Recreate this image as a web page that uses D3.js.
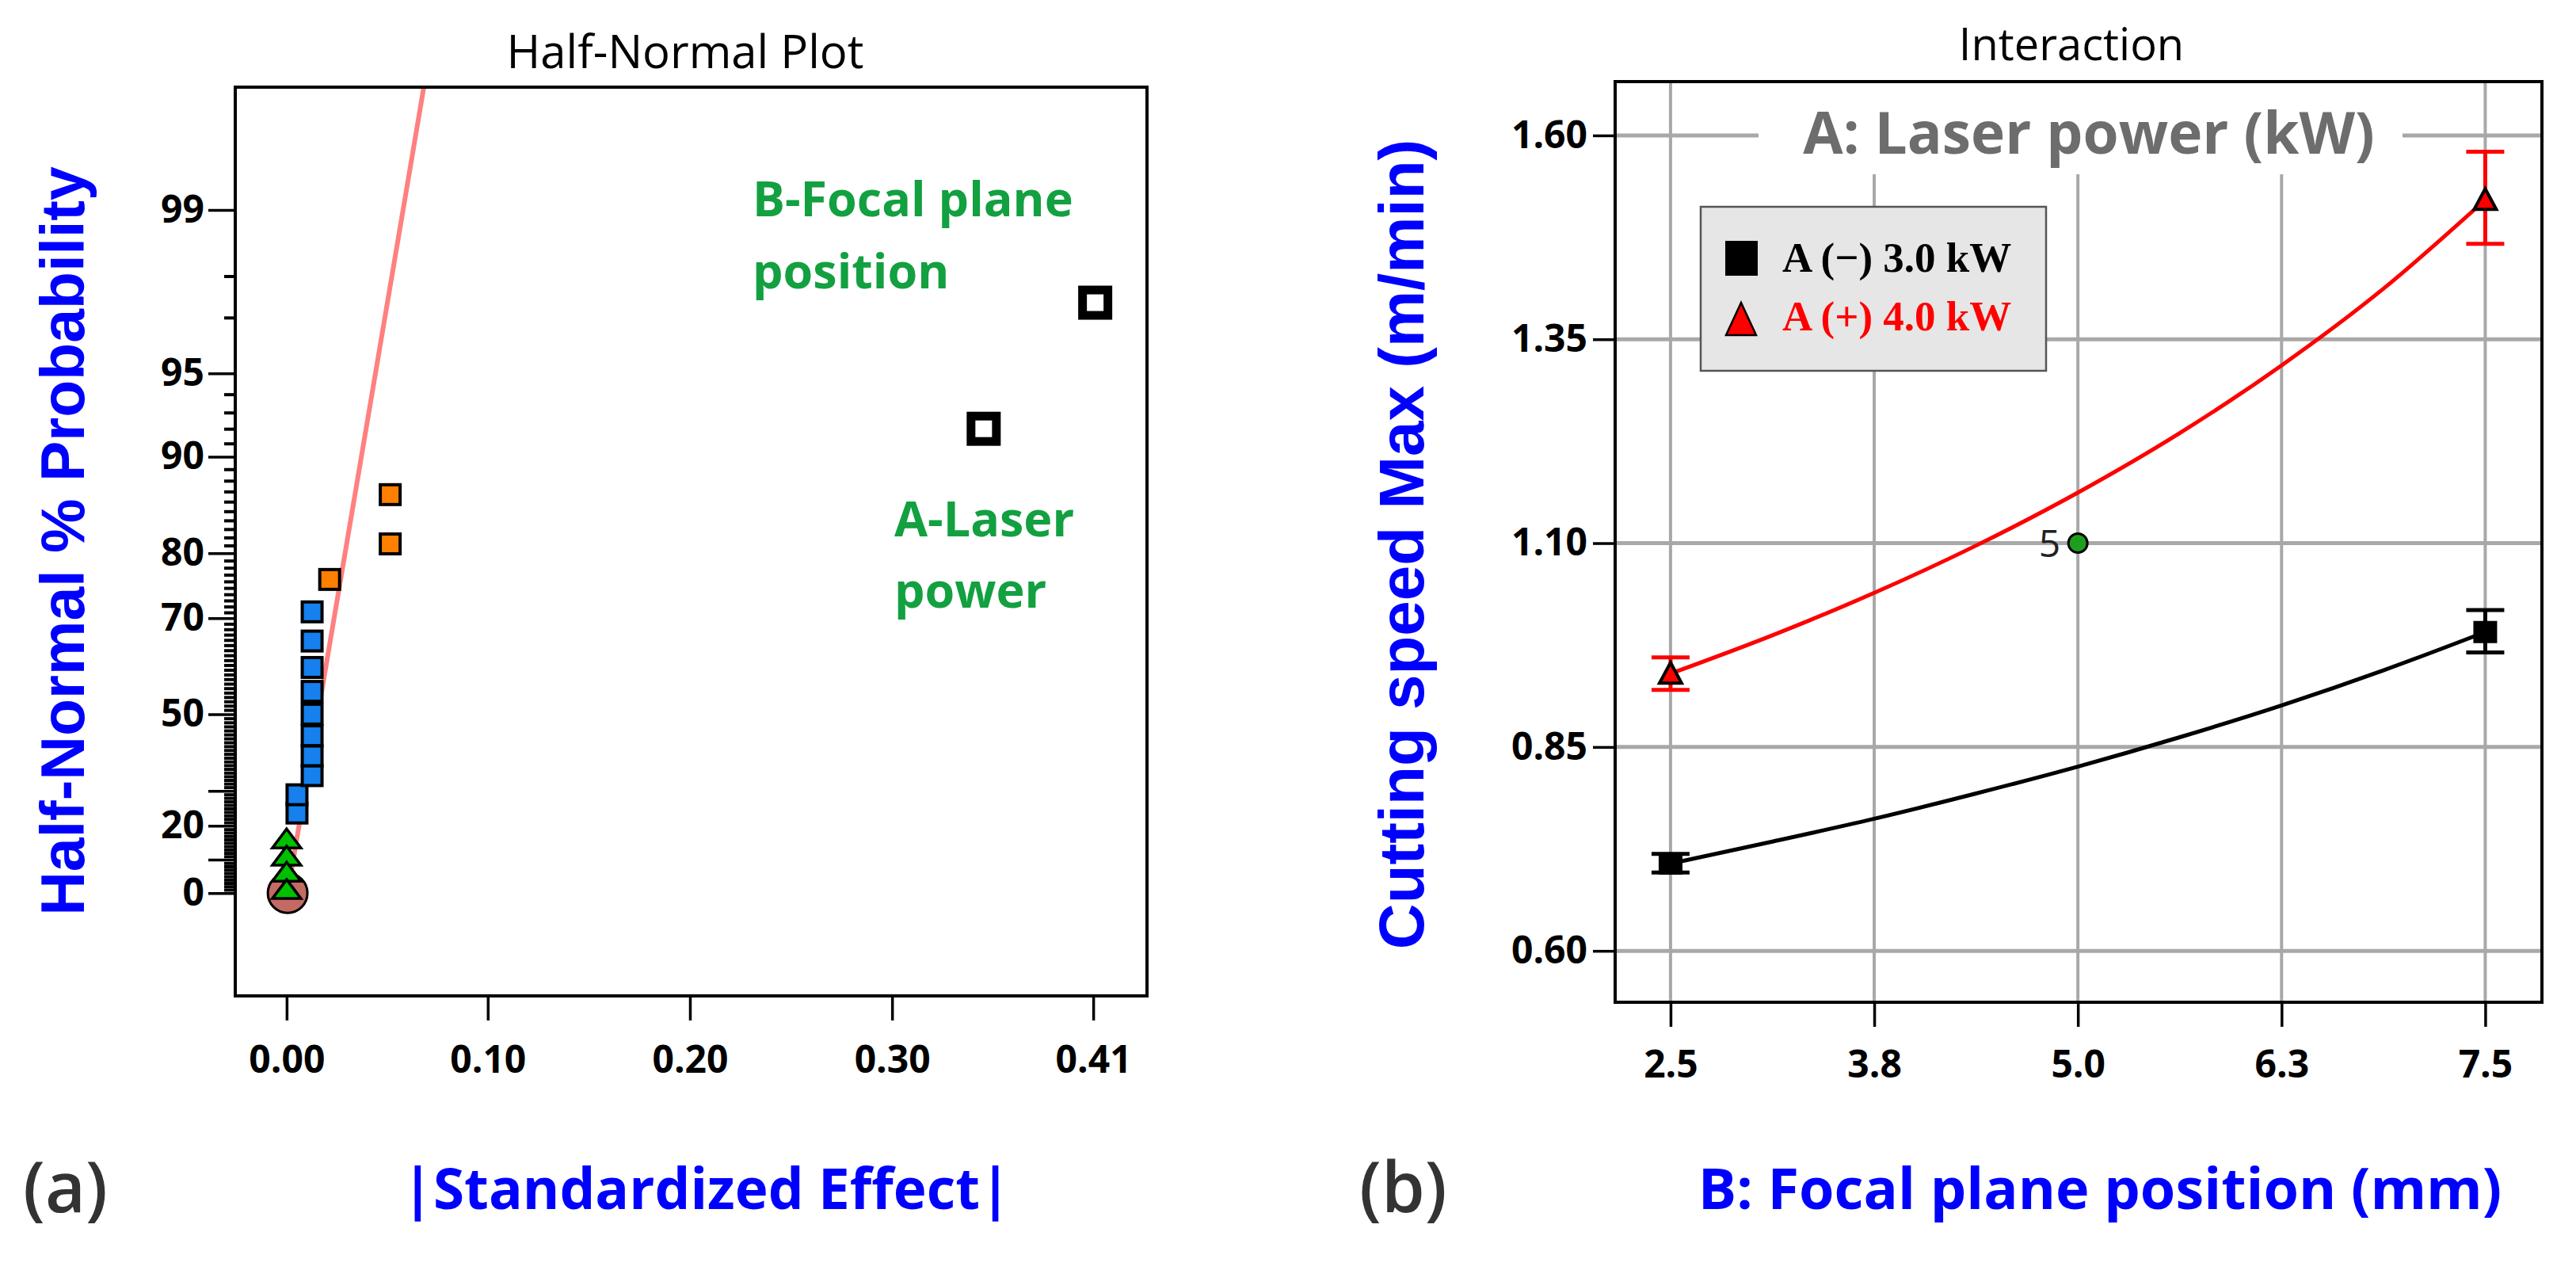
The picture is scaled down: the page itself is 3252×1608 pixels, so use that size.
<!DOCTYPE html>
<html>
<head>
<meta charset="utf-8">
<script src="https://cdn.jsdelivr.net/npm/d3@7"></script>
<style>
  body { margin: 0; background: #fff; }
</style>
</head>
<body>
<svg id="chart" width="3252" height="1608" font-family="Open Sans, sans-serif"></svg>
<script>
// (a) half-normal plot data
const effectValues = [0.406, 0.350, 0.052, 0.052, 0.0216, 0.0128, 0.0128, 0.0128, 0.0128, 0.0128, 0.0128, 0.0128, 0.0128, 0.0052, 0.0052, 0, 0, 0, 0];
const effectProbs = [97.4, 92.0, 86.7, 81.2, 76.3, 71.1, 65.8, 60.5, 55.3, 50.0, 44.7, 39.5, 34.2, 28.9, 23.7, 16.3, 11.2, 6.4, 1.2];
const effectGroups = ["main", "main", "orange", "orange", "orange", "blue", "blue", "blue", "blue", "blue", "blue", "blue", "blue", "blue", "blue", "green", "green", "green", "green"];
const errorPoint = { effect: 0.0005, prob: 0 };
const fitLineEffects = [0.0005, 0.0688];
const fitLineProbs = [0, 99.76];
const probMajor = [0, 10, 20, 30, 50, 70, 80, 90, 95, 99];
const probMajorLabels = ["0", "", "20", "", "50", "70", "80", "90", "95", "99"];
const probMinor = d3.range(1, 95).filter(p => !probMajor.includes(p)).concat([97, 98]);
const effectTicks = [0, 0.101, 0.2025, 0.304, 0.405];
const effectTickLabels = ["0.00", "0.10", "0.20", "0.30", "0.41"];

// (b) interaction plot data
const focalLevels = [2.5, 7.5];
const lowPowerMean = [0.707, 0.991];
const lowPowerLo = [0.696, 0.966];
const lowPowerHi = [0.719, 1.018];
const highPowerMean = [0.940, 1.521];
const highPowerLo = [0.920, 1.467];
const highPowerHi = [0.960, 1.580];
const curveFocal = [2.5, 3.125, 3.75, 4.375, 5.0, 5.625, 6.25, 6.875, 7.5];
const lowPowerCurve = [0.707, 0.734, 0.762, 0.793, 0.826, 0.862, 0.901, 0.944, 0.991];
const highPowerCurve = [0.940, 0.987, 1.039, 1.097, 1.162, 1.235, 1.318, 1.412, 1.521];
const centerPoint = { focal: 5.0, speed: 1.10, label: "5" };
const focalTicks = [2.5, 3.75, 5.0, 6.25, 7.5];
const focalTickLabels = ["2.5", "3.8", "5.0", "6.3", "7.5"];
const speedTicks = [0.60, 0.85, 1.10, 1.35, 1.60];
const legendLabels = ["A (\u2212) 3.0 kW", "A (+) 4.0 kW"];

// inverse normal cdf (Acklam)
function probit(p) {
    const a = [-3.969683028665376e+01, 2.209460984245205e+02, -2.759285104469687e+02, 1.383577518672690e+02, -3.066479806614716e+01, 2.506628277459239e+00];
    const b = [-5.447609879822406e+01, 1.615858368580409e+02, -1.556989798598866e+02, 6.680131188771972e+01, -1.328068155288572e+01];
    const c = [-7.784894002430293e-03, -3.223964580411365e-01, -2.400758277161838e+00, -2.549732539343734e+00, 4.374664141464968e+00, 2.938163982698783e+00];
    const d = [7.784695709041462e-03, 3.224671290700398e-01, 2.445134137142996e+00, 3.754408661907416e+00];
    const pl = 0.02425;
    let q, r;
    if (p < pl) {
        q = Math.sqrt(-2 * Math.log(p));
        return (((((c[0] * q + c[1]) * q + c[2]) * q + c[3]) * q + c[4]) * q + c[5]) / ((((d[0] * q + d[1]) * q + d[2]) * q + d[3]) * q + 1);
    }
    if (p <= 1 - pl) {
        q = p - 0.5; r = q * q;
        return (((((a[0] * r + a[1]) * r + a[2]) * r + a[3]) * r + a[4]) * r + a[5]) * q / (((((b[0] * r + b[1]) * r + b[2]) * r + b[3]) * r + b[4]) * r + 1);
    }
    q = Math.sqrt(-2 * Math.log(1 - p));
    return -(((((c[0] * q + c[1]) * q + c[2]) * q + c[3]) * q + c[4]) * q + c[5]) / ((((d[0] * q + d[1]) * q + d[2]) * q + d[3]) * q + 1);
}
const halfNormalZ = pct => probit(0.5 + pct / 200);

const svg = d3.select("#chart");
svg.append("rect").attr("width", 3252).attr("height", 1608).attr("fill", "#fff");

function styleAxis(g, size) {
    g.attr("font-size", size).attr("font-weight", 700).attr("font-family", "Open Sans, sans-serif");
    g.select(".domain").remove();
    g.selectAll(".tick line").attr("stroke", "#000").attr("stroke-width", 3.5);
    g.selectAll(".tick text").attr("fill", "#000");
}

// ================= (a) =================
const A = { left: 297, right: 1448, top: 110, bottom: 1257 };
const xA = d3.scaleLinear().domain([-0.0258, 0.432]).range([A.left, A.right]);
const yA = d3.scaleLinear().domain([-0.388, 3.039]).range([A.bottom, A.top]);
const gA = svg.append("g");

gA.append("clipPath").attr("id", "clipA").append("rect")
    .attr("x", A.left).attr("y", A.top)
    .attr("width", A.right - A.left).attr("height", A.bottom - A.top);

gA.append("g")
    .attr("transform", `translate(${A.left},0)`)
    .call(d3.axisLeft(yA).tickValues(probMinor.map(halfNormalZ)).tickSize(14).tickFormat(""))
    .call(g => styleAxis(g, 48))
    .selectAll(".tick line").attr("stroke-width", 4);

gA.append("g")
    .attr("transform", `translate(${A.left},0)`)
    .call(d3.axisLeft(yA).tickValues(probMajor.map(halfNormalZ)).tickSize(34).tickPadding(5)
        .tickFormat((d, i) => probMajorLabels[i]))
    .call(g => styleAxis(g, 48));

gA.append("g")
    .attr("transform", `translate(0,${A.bottom})`)
    .call(d3.axisBottom(xA).tickValues(effectTicks).tickSize(31).tickPadding(32)
        .tickFormat((d, i) => effectTickLabels[i]))
    .call(g => styleAxis(g, 48));

// fitted line
const fitLine = d3.line().x(d => xA(d[0])).y(d => yA(halfNormalZ(d[1])));
gA.append("path")
    .datum(fitLineEffects.map((e, i) => [e, fitLineProbs[i]]))
    .attr("d", fitLine)
    .attr("clip-path", "url(#clipA)")
    .attr("fill", "none")
    .attr("stroke", "#FF8080")
    .attr("stroke-width", 6);

// error estimate circle
gA.append("circle")
    .attr("cx", xA(errorPoint.effect))
    .attr("cy", yA(halfNormalZ(errorPoint.prob)))
    .attr("r", 25)
    .attr("fill", "#C46A64")
    .attr("stroke", "#000")
    .attr("stroke-width", 3);

const effectData = effectValues.map((e, i) => ({ effect: e, prob: effectProbs[i], group: effectGroups[i] }));

gA.append("g").selectAll("path")
    .data(effectData.filter(d => d.group === "green"))
    .join("path")
    .attr("transform", d => `translate(${xA(d.effect)},${yA(halfNormalZ(d.prob))})`)
    .attr("d", "M0,-12L18,12L-18,12Z")
    .attr("fill", "#00C000")
    .attr("stroke", "#000")
    .attr("stroke-width", 3.5);

const squareStyle = {
    blue: { size: 25, fill: "#1580EE", sw: 4 },
    orange: { size: 25, fill: "#FF8000", sw: 4 },
    main: { size: 32, fill: "#fff", sw: 11 }
};
gA.append("g").selectAll("rect")
    .data(effectData.filter(d => d.group !== "green").reverse())
    .join("rect")
    .attr("x", d => xA(d.effect) - squareStyle[d.group].size / 2)
    .attr("y", d => yA(halfNormalZ(d.prob)) - squareStyle[d.group].size / 2)
    .attr("width", d => squareStyle[d.group].size)
    .attr("height", d => squareStyle[d.group].size)
    .attr("fill", d => squareStyle[d.group].fill)
    .attr("stroke", "#000")
    .attr("stroke-width", d => squareStyle[d.group].sw);

gA.append("rect")
    .attr("x", A.left).attr("y", A.top)
    .attr("width", A.right - A.left).attr("height", A.bottom - A.top)
    .attr("fill", "none").attr("stroke", "#000").attr("stroke-width", 4);

// annotations
const green = "#12A040";
[["B-Focal plane", 950, 273], ["position", 950, 364], ["A-Laser", 1129, 677], ["power", 1129, 767]]
    .forEach(t => {
        gA.append("text")
            .attr("x", t[1]).attr("y", t[2])
            .attr("font-size", 61).attr("font-weight", 700)
            .attr("fill", green)
            .text(t[0]);
    });

gA.append("text")
    .attr("x", 865).attr("y", 86)
    .attr("text-anchor", "middle")
    .attr("font-size", 58)
    .attr("fill", "#000")
    .text("Half-Normal Plot");

gA.append("text")
    .attr("transform", "translate(106,683)rotate(-90)")
    .attr("text-anchor", "middle")
    .attr("font-family", "Liberation Sans, Arial, sans-serif")
    .attr("font-size", 77).attr("font-weight", 700)
    .attr("fill", "#0000FF")
    .text("Half-Normal % Probability");

gA.append("text")
    .attr("x", 892).attr("y", 1526)
    .attr("text-anchor", "middle")
    .attr("font-size", 71).attr("font-weight", 700)
    .attr("fill", "#0000FF")
    .text("|Standardized Effect|");

gA.append("text")
    .attr("x", 29).attr("y", 1530)
    .attr("font-size", 88).attr("font-weight", 600)
    .attr("fill", "#333")
    .text("(a)");

// ================= (b) =================
const B = { left: 2039, right: 3209, top: 103, bottom: 1265 };
const xB = d3.scaleLinear().domain([2.16, 7.848]).range([B.left, B.right]);
const yB = d3.scaleLinear().domain([0.537, 1.666]).range([B.bottom, B.top]);
const gB = svg.append("g");

// grid
gB.append("g").selectAll("line")
    .data(focalTicks)
    .join("line")
    .attr("x1", d => xB(d)).attr("x2", d => xB(d))
    .attr("y1", B.top).attr("y2", B.bottom)
    .attr("stroke", "#A8A8A8").attr("stroke-width", 4);
gB.append("g").selectAll("line")
    .data(speedTicks)
    .join("line")
    .attr("x1", B.left).attr("x2", B.right)
    .attr("y1", d => yB(d)).attr("y2", d => yB(d))
    .attr("stroke", "#A8A8A8").attr("stroke-width", 5);

gB.append("g")
    .attr("transform", `translate(${B.left},0)`)
    .call(d3.axisLeft(yB).tickValues(speedTicks).tickSize(28).tickPadding(7).tickFormat(d3.format(".2f")))
    .call(g => styleAxis(g, 48));

gB.append("g")
    .attr("transform", `translate(0,${B.bottom})`)
    .call(d3.axisBottom(xB).tickValues(focalTicks).tickSize(31).tickPadding(30)
        .tickFormat((d, i) => focalTickLabels[i]))
    .call(g => styleAxis(g, 48));

// title box over grid
gB.append("rect")
    .attr("x", 2220).attr("y", B.top + 2)
    .attr("width", 3033 - 2220).attr("height", 220 - B.top - 2)
    .attr("fill", "#fff");
gB.append("text")
    .attr("x", 2637).attr("y", 194)
    .attr("text-anchor", "middle")
    .attr("font-size", 73).attr("font-weight", 700)
    .attr("fill", "#6D6D6D")
    .text("A: Laser power (kW)");

// curves
const curveLine = d3.line()
    .x(d => xB(d[0])).y(d => yB(d[1]))
    .curve(d3.curveMonotoneX);
gB.append("path")
    .datum(curveFocal.map((f, i) => [f, highPowerCurve[i]]))
    .attr("d", curveLine)
    .attr("fill", "none").attr("stroke", "#FF0000").attr("stroke-width", 5);
gB.append("path")
    .datum(curveFocal.map((f, i) => [f, lowPowerCurve[i]]))
    .attr("d", curveLine)
    .attr("fill", "none").attr("stroke", "#000").attr("stroke-width", 5);

// error bars
function errorBars(lo, hi, color) {
    const g = gB.append("g").attr("stroke", color).attr("stroke-width", 5);
    focalLevels.forEach((f, i) => {
        const x = xB(f);
        g.append("line").attr("x1", x).attr("x2", x).attr("y1", yB(lo[i])).attr("y2", yB(hi[i]));
        g.append("line").attr("x1", x - 24).attr("x2", x + 24).attr("y1", yB(lo[i])).attr("y2", yB(lo[i]));
        g.append("line").attr("x1", x - 24).attr("x2", x + 24).attr("y1", yB(hi[i])).attr("y2", yB(hi[i]));
    });
}
errorBars(lowPowerLo, lowPowerHi, "#000");
errorBars(highPowerLo, highPowerHi, "#FF0000");

gB.append("g").selectAll("rect")
    .data(focalLevels)
    .join("rect")
    .attr("x", d => xB(d) - 15)
    .attr("y", (d, i) => yB(lowPowerMean[i]) - 14)
    .attr("width", 30).attr("height", 28)
    .attr("fill", "#000");

gB.append("g").selectAll("path")
    .data(focalLevels)
    .join("path")
    .attr("transform", (d, i) => `translate(${xB(d)},${yB(highPowerMean[i])})`)
    .attr("d", "M0,-14L14,12L-14,12Z")
    .attr("fill", "#FF0000")
    .attr("stroke", "#000")
    .attr("stroke-width", 4);

// center point
gB.append("circle")
    .attr("cx", xB(centerPoint.focal)).attr("cy", yB(centerPoint.speed))
    .attr("r", 12)
    .attr("fill", "#1E9E1E").attr("stroke", "#000").attr("stroke-width", 3);
gB.append("text")
    .attr("x", xB(centerPoint.focal) - 22).attr("y", yB(centerPoint.speed) + 17)
    .attr("text-anchor", "end")
    .attr("font-size", 48)
    .attr("fill", "#222")
    .text(centerPoint.label);

// legend
const leg = gB.append("g");
leg.append("rect")
    .attr("x", 2147).attr("y", 261)
    .attr("width", 2583 - 2147).attr("height", 468 - 261)
    .attr("fill", "#E6E6E6").attr("stroke", "#555").attr("stroke-width", 2.5);
leg.append("rect")
    .attr("x", 2178).attr("y", 304).attr("width", 41).attr("height", 44)
    .attr("fill", "#000");
leg.append("path")
    .attr("d", "M2198,382L2217,423L2179,423Z")
    .attr("fill", "#FF0000").attr("stroke", "#000").attr("stroke-width", 2.5);
leg.selectAll("text.leg")
    .data(legendLabels)
    .join("text")
    .attr("class", "leg")
    .attr("x", 2250)
    .attr("y", (d, i) => 343 + i * 74)
    .attr("font-family", "Liberation Serif, serif")
    .attr("font-size", 53).attr("font-weight", 700)
    .attr("fill", (d, i) => i === 0 ? "#000" : "#FF0000")
    .text(d => d);

gB.append("rect")
    .attr("x", B.left).attr("y", B.top)
    .attr("width", B.right - B.left).attr("height", B.bottom - B.top)
    .attr("fill", "none").attr("stroke", "#000").attr("stroke-width", 4);

gB.append("text")
    .attr("x", 2615).attr("y", 76)
    .attr("text-anchor", "middle")
    .attr("font-size", 56)
    .attr("fill", "#000")
    .text("Interaction");

gB.append("text")
    .attr("transform", "translate(1797,687)rotate(-90)")
    .attr("text-anchor", "middle")
    .attr("font-family", "Liberation Sans, Arial, sans-serif")
    .attr("font-size", 80).attr("font-weight", 700)
    .attr("fill", "#0000FF")
    .text("Cutting speed Max (m/min)");

gB.append("text")
    .attr("x", 2651).attr("y", 1526)
    .attr("text-anchor", "middle")
    .attr("font-size", 72).attr("font-weight", 700)
    .attr("fill", "#0000FF")
    .text("B: Focal plane position (mm)");

gB.append("text")
    .attr("x", 1716).attr("y", 1530)
    .attr("font-size", 88).attr("font-weight", 600)
    .attr("fill", "#333")
    .text("(b)");
</script>
</body>
</html>
